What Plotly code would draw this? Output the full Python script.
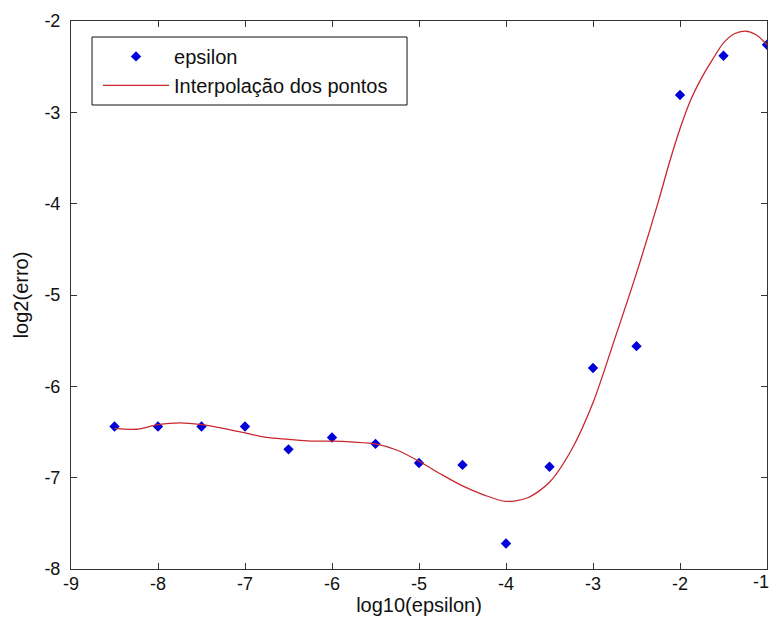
import plotly.graph_objects as go

# Data points
x_pts = [-8.5, -8.0, -7.5, -7.0, -6.5, -6.0, -5.5, -5.0, -4.5, -4.0, -3.5, -3.0, -2.5, -2.0, -1.5, -1.0]
y_pts = [-6.44, -6.44, -6.44, -6.44, -6.69, -6.56, -6.63, -6.84, -6.86, -7.72, -6.88, -5.80, -5.56, -2.81, -2.38, -2.26]

# Interpolation curve
x_curve = [-8.5, -8.25, -8.0, -7.75, -7.5, -7.25, -7.0, -6.75, -6.5, -6.25, -6.0, -5.75, -5.5, -5.25,
           -5.0, -4.75, -4.5, -4.25, -4.0, -3.75, -3.5, -3.25, -3.0, -2.75, -2.5, -2.25, -2.125, -2.0,
           -1.875, -1.75, -1.625, -1.5, -1.375, -1.25, -1.125, -1.0]
y_curve = [-6.46, -6.47, -6.42, -6.40, -6.42, -6.46, -6.51, -6.56, -6.58, -6.60, -6.60, -6.61, -6.63, -6.70,
           -6.82, -6.96, -7.09, -7.19, -7.26, -7.22, -7.05, -6.70, -6.18, -5.48, -4.76, -3.98, -3.56, -3.18,
           -2.86, -2.62, -2.42, -2.24, -2.14, -2.11, -2.15, -2.26]

x_ticks = [-9, -8, -7, -6, -5, -4, -3, -2, -1]
y_ticks = [-8, -7, -6, -5, -4, -3, -2]

FONT = "Liberation Sans, Arial, sans-serif"

fig = go.Figure()
fig.add_trace(go.Scatter(
    x=x_pts, y=y_pts, mode="markers", name="epsilon",
    marker=dict(symbol="diamond", size=8, color="#0000d8"),
    legendgroup="a",
))
fig.add_trace(go.Scatter(
    x=x_curve, y=y_curve, mode="lines", name="Interpolação dos pontos",
    line=dict(color="#c8282d", width=1.3, shape="spline", smoothing=0.8),
    legendgroup="b",
))

axis_common = dict(
    showgrid=False, zeroline=False, showline=True, linecolor="#333333", linewidth=1,
    mirror="ticks", ticks="inside", ticklen=6, tickcolor="#333333", tickwidth=1,
    tickfont=dict(family=FONT, size=18, color="#111111"),
)

# legend frame (drawn as a shape so its width matches the reference)
fig.add_shape(type="rect", xref="paper", yref="paper",
              x0=0.0302, x1=0.4828, y0=0.8467, y1=0.9708,
              line=dict(color="#111111", width=1), fillcolor="white", layer="below")

# the last x tick label sits flush with the right edge of the figure
x_ticktext = [str(v) for v in x_ticks[:-1]] + [""]
fig.add_annotation(x=x_ticks[-1], xref="x", y=0, yref="paper",
                   text=str(x_ticks[-1]), showarrow=False,
                   xanchor="right", yanchor="top", xshift=4, yshift=-1,
                   font=dict(family=FONT, size=18, color="#111111"))

fig.update_layout(
    width=771, height=627,
    margin=dict(l=71, r=4, t=21, b=58),
    paper_bgcolor="white", plot_bgcolor="white",
    font=dict(family=FONT, size=18, color="#111111"),
    showlegend=True,
    legend=dict(
        x=0.0388, y=0.971, xanchor="left", yanchor="top",
        borderwidth=0, bgcolor="rgba(0,0,0,0)",
        font=dict(family=FONT, size=20, color="#111111"),
        tracegroupgap=0, itemwidth=66,
    ),
    xaxis=dict(range=[-9, -1], tickvals=x_ticks, ticktext=x_ticktext,
               title=dict(text="log10(epsilon)", font=dict(family=FONT, size=20), standoff=2),
               ticklabelstandoff=-2,
               **axis_common),
    yaxis=dict(range=[-8, -2], tickvals=y_ticks, ticktext=[str(v) for v in y_ticks],
               title=dict(text="log2(erro)", font=dict(family=FONT, size=20), standoff=10),
               ticklabelstandoff=6,
               **axis_common),
)

fig.write_html("out.html")
